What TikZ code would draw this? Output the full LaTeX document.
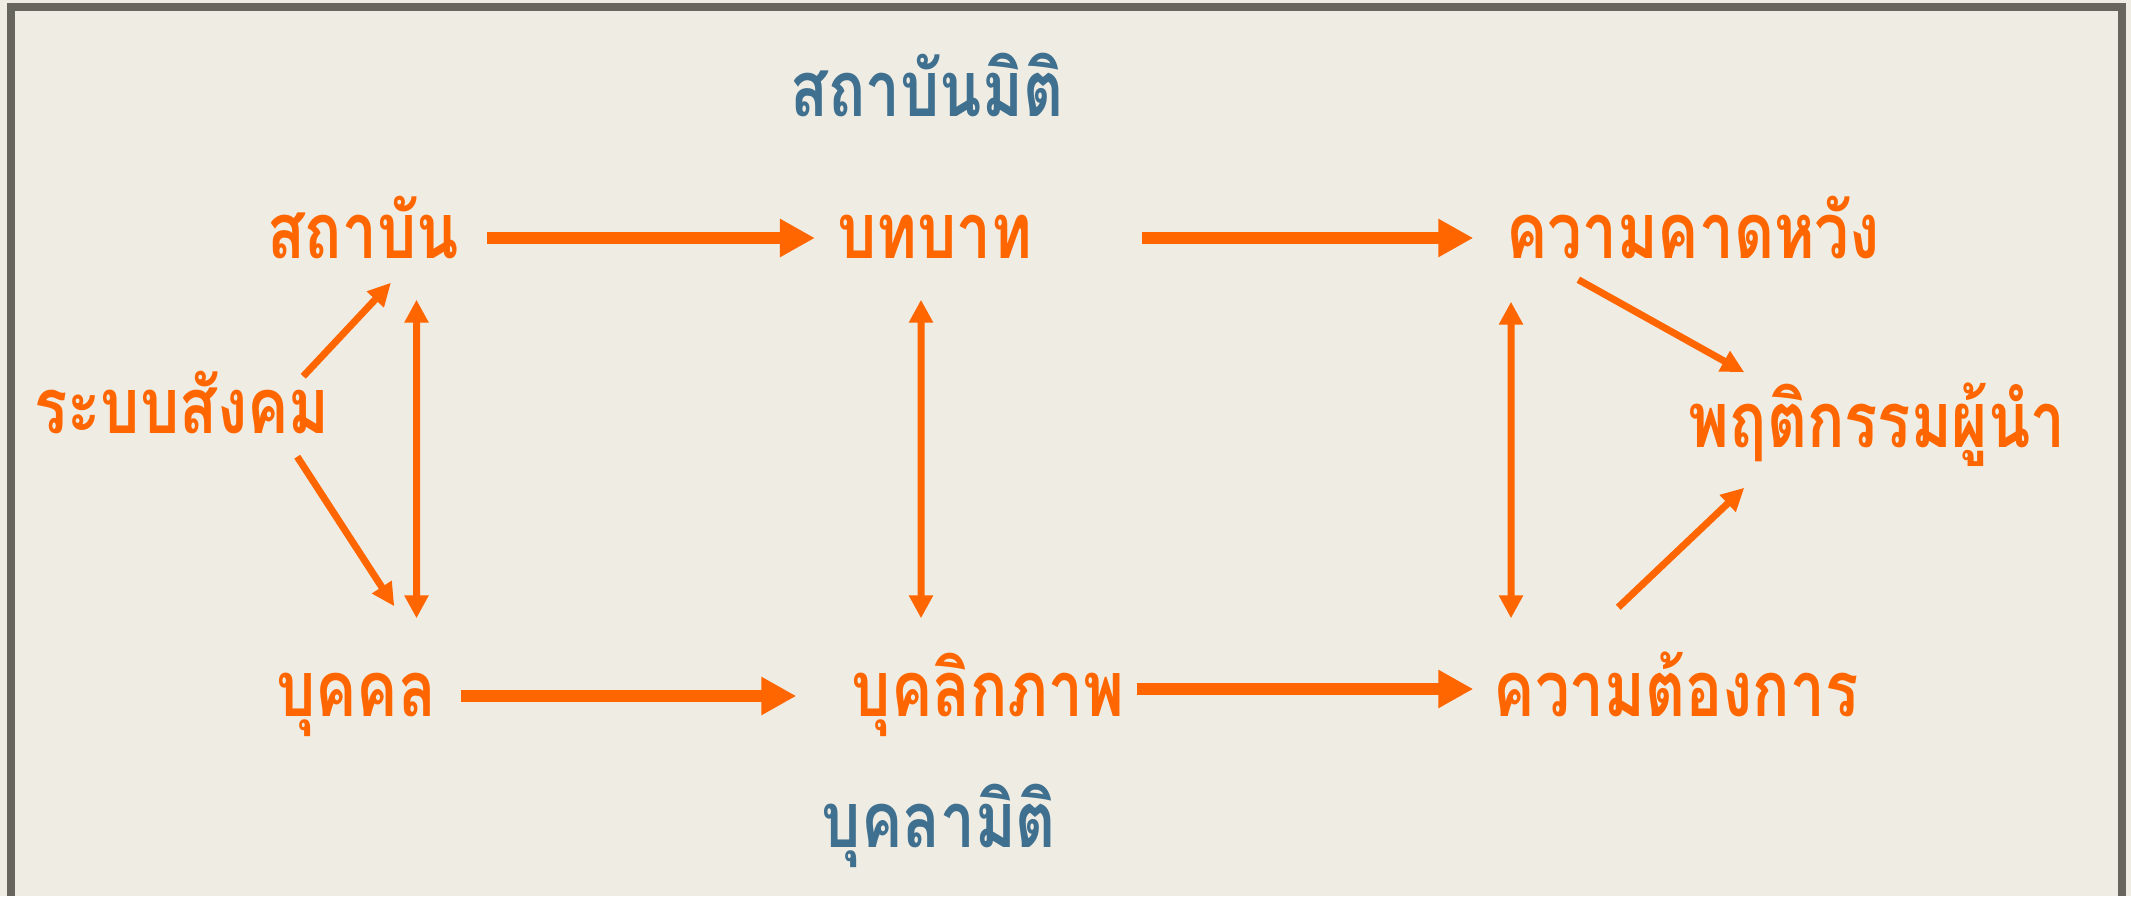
\documentclass[tikz,border=0pt]{standalone}
\usepackage{fontspec}
\newfontfamily\thai[Script=Thai, FakeStretch=0.8]{Loma}
\usepackage{tikz}
\usetikzlibrary{positioning, arrows.meta}
\definecolor{orng}{HTML}{FF6600}
\definecolor{slate}{HTML}{40708F}
\definecolor{paper}{HTML}{EFECE3}
\definecolor{frame}{HTML}{66665E}
\tikzset{
x=0.1mm, y=-0.1mm, % one unit is one pixel of the slide, y runs downwards
every node/.style={font=\thai\bfseries\fontsize{22}{26}\selectfont}, % the slide's narrow Thai type
}

\begin{document}
\begin{tikzpicture}[main/.style = {inner sep=0, text height=4mm, text depth=0mm, text=orng},
    dim/.style = {main, text=slate},
    wide/.style = {-{Triangle[length=3.5mm, width=3.6mm]}, line width=1.17mm, draw=orng},
    both/.style = {{Triangle[length=2.3mm, width=2.3mm]}-{Triangle[length=2.3mm, width=2.3mm]}, line width=0.7mm, draw=orng},
    slant/.style = {-{Triangle[length=2.3mm, width=2.2mm]}, line width=0.7mm, draw=orng}]
    % the getzels-guba model of leader behaviour
    \fill[paper] (0,0) rectangle (2131,896);
    \draw[frame, line width=0.8mm] (10.7,896) -- (10.7,7.5) -- (2122,7.5) -- (2122,896);

    \node[main, minimum width=18.5mm] (1) at (363,238) {สถาบัน};
    \node[main, minimum width=18.5mm] (2) at (935,238) {บทบาท};
    \node[main, minimum width=38.2mm] (3) at (1693,238) {ความคาดหวัง};
    \node[main, minimum width=28.6mm] (4) at (182,413) {ระบบสังคม};
    \node[main, minimum width=41mm] (5) at (1877,427) {พฤติกรรมผู้นำ};
    \node[main, minimum width=16.8mm] (6) at (356,696) {บุคคล};
    \node[main, minimum width=29mm] (7) at (988,696) {บุคลิกภาพ};
    \node[main, minimum width=37.6mm] (8) at (1676,696) {ความต้องการ};
    \node[dim, minimum width=27mm] (9) at (927,97) {สถาบันมิติ};
    \node[dim, minimum width=23.8mm] (10) at (939,827) {บุคลามิติ};

    \draw[wide, shorten <=2.76mm, shorten >=2.2mm] (1) -- (2);
    \draw[wide, shorten <=10.85mm, shorten >=2.8mm] (2) -- (3);
    \draw[wide, shorten <=2mm, shorten >=4.6mm] (6) -- (7);
    \draw[wide, shorten <=0.3mm, shorten >=1.4mm] ([yshift=0.7mm]7.east) -- ([yshift=0.7mm]8.west);

    \draw[both, shorten <=4.1mm, shorten >=5.7mm] ([xshift=5.35mm]1.south) -- ([xshift=6.05mm]6.north);
    \draw[both, shorten <=4.1mm, shorten >=5.7mm] ([xshift=-1.4mm]2.south) -- ([xshift=-6.7mm]7.north);
    \draw[both, shorten <=4.3mm, shorten >=5.7mm] ([xshift=-18.2mm]3.south) -- ([xshift=-16.5mm]8.north);

    \draw[slant] ([xshift=-2.7mm, yshift=1.6mm]4.north east) -- ([xshift=12.44mm, yshift=-2.4mm]1.south west);
    \draw[slant] ([xshift=-3.3mm, yshift=-2.3mm]4.south east) -- ([xshift=12.3mm, yshift=6.9mm]6.north west);
    \draw[slant] ([xshift=7.7mm, yshift=-2.1mm]3.south west) -- ([xshift=7.3mm, yshift=3.4mm]5.north west);
    \draw[slant] ([xshift=13.1mm, yshift=6.8mm]8.north west) -- ([xshift=7.3mm, yshift=-4mm]5.south west);
\end{tikzpicture}
\end{document}
